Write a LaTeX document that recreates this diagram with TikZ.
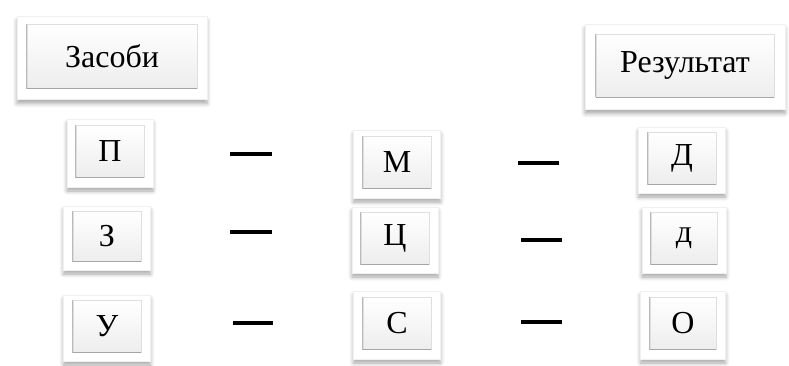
\documentclass[tikz,border=0pt]{standalone}
\usepackage{fontspec}
\setmainfont{Liberation Serif}
\newfontfamily\tmfont{Liberation Serif}
\usetikzlibrary{shadows.blur}
\tikzset{
  outerbtn/.style={draw=gray!12, line width=0.6pt, fill=white, inner sep=0pt,
    blur shadow={shadow xshift=0pt, shadow yshift=-4pt, shadow blur steps=6, shadow opacity=35, shadow blur radius=4pt}},
  innerbtn/.style={draw=gray!25, line width=0.5pt, top color=white, bottom color=gray!14, inner sep=0pt,
    font=\tmfont\fontsize{32}{32}\selectfont},
  bottomedge/.style={draw=gray!70, line width=1.4pt},
  leftedge/.style={draw=gray!55, line width=0.6pt},
  dashline/.style={line width=4pt, black}
}
\newcommand\mkbtn[8]{%
  \node[outerbtn, minimum width=#4pt, minimum height=#5pt] (#1) at (#2,#3) {};
  \node[innerbtn, minimum width=#6pt, minimum height=#7pt] (#1i) at ([yshift=1.5pt]#1.center) {#8};
  \draw[bottomedge] (#1i.south west) -- (#1i.south east);
  \draw[leftedge] (#1i.south west) -- (#1i.north west);
}
\begin{document}
\begin{tikzpicture}[x=1pt,y=-1pt]
\useasboundingbox (0,0) rectangle (789,365);
\mkbtn{zas}{112}{58}{190}{83}{170}{64}{Засоби}
\mkbtn{res}{685}{67}{200}{85}{178}{63}{Результат}
\mkbtn{p}{110}{153}{86}{68}{68}{52}{П}
\mkbtn{z}{107}{238}{87}{64}{68}{50}{З}
\mkbtn{u}{107}{328}{87}{66}{68}{52}{У}
\mkbtn{m}{397}{164}{87}{68}{68}{52}{М}
\mkbtn{c}{395}{240}{86}{66}{68}{52}{Ц}
\mkbtn{s}{397}{325}{87}{68}{68}{52}{С}
\mkbtn{d}{682}{160}{87}{66}{68}{52}{Д}
\mkbtn{dd}{684}{240}{84}{66}{66}{52}{д}
\mkbtn{o}{683}{325}{85}{68}{66}{52}{О}
\coordinate (a1) at (230,154); \coordinate (b1) at (272,154);
\coordinate (a2) at (230,232); \coordinate (b2) at (272,232);
\coordinate (a3) at (233,323); \coordinate (b3) at (273,323);
\coordinate (c1) at (518,163); \coordinate (e1) at (559,163);
\coordinate (c2) at (521,240); \coordinate (e2) at (562,240);
\coordinate (c3) at (521,322); \coordinate (e3) at (562,322);
\draw[dashline] (a1) -- (b1);
\draw[dashline] (a2) -- (b2);
\draw[dashline] (a3) -- (b3);
\draw[dashline] (c1) -- (e1);
\draw[dashline] (c2) -- (e2);
\draw[dashline] (c3) -- (e3);
\end{tikzpicture}
\end{document}
